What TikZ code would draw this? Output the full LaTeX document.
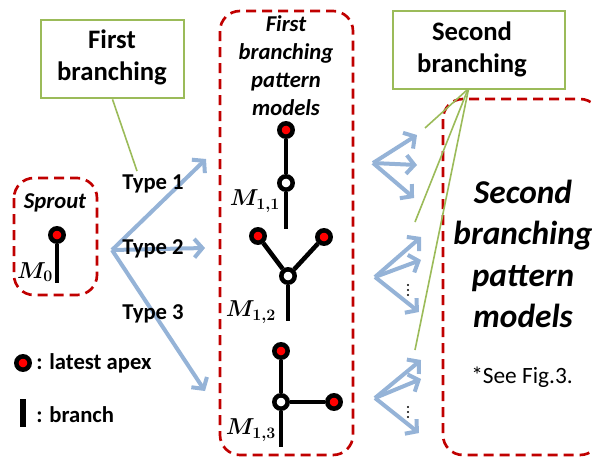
\documentclass[tikz,border=0pt]{standalone}
\usepackage{fontspec}
\setmainfont{Carlito}
\usetikzlibrary{arrows.meta}
\definecolor{dashred}{RGB}{192,0,0}
\definecolor{boxgreen}{RGB}{155,187,89}
\definecolor{arrowblue}{RGB}{149,179,215}
\begin{document}
\begin{tikzpicture}[x=0.75pt,y=-0.75pt,
  groupbox/.style={draw=dashred, line width=2pt, dash pattern=on 7.5pt off 4.5pt, rounded corners=15pt},
  notebox/.style={draw=boxgreen, line width=1.5pt, fill=white, inner sep=0pt},
  notetext/.style={align=center, font=\fontsize{20}{24}\selectfont\bfseries, inner sep=0pt},
  link/.style={draw=boxgreen, line width=1.2pt},
  flow/.style={draw=arrowblue, line width=3pt, -{Straight Barb[length=6pt,width=14pt,line width=3pt]}},
  apex/.style={circle, draw=black, fill=red, line width=3.4pt, minimum size=10pt, inner sep=0pt},
  joint/.style={circle, draw=black, fill=white, line width=3.4pt, minimum size=10pt, inner sep=0pt},
  stem/.style={draw=black, line width=3.4pt},
  dotmark/.style={circle, fill=black, inner sep=0pt, minimum size=1.8pt},
  lbl/.style={font=\fontsize{17}{20}\selectfont\bfseries, inner sep=0pt},
  mlbl/.style={font=\fontsize{18}{21}\selectfont\boldmath, inner sep=0pt},
  title/.style={align=center, inner sep=0pt}
]
\useasboundingbox (0,0) rectangle (592,457);
\clip (0,0) rectangle (592,457);

% dashed group frames
\draw[groupbox] (14,178) rectangle (97,295);
\draw[groupbox] (220,11) rectangle (353,455);
\draw[groupbox] (443,99) rectangle (600,455);

% frame titles
\node[title, font=\fontsize{17}{20}\selectfont\bfseries\itshape] (sprout) at (55,203) {Sprout};
\node[title, font=\fontsize{17}{21}\selectfont\bfseries\itshape] (fbm) at (286,66)
  {First\\branching\\pattern\\models};
\node[title, font=\fontsize{25}{31}\selectfont\bfseries\itshape] (sbm) at (523,254)
  {Second\\branching\\pattern\\models};
\node[title, font=\fontsize{17.5}{20}\selectfont] (see) at (522,377) {*See Fig.3.};

% sprout M0
\node[apex] (s0) at (57,235) {};
\coordinate (s0b) at (57,283);
\draw[stem] (s0) -- (s0b);
\node[mlbl] (m0) at (35,272) {$M_0$};

% first branching models
\node[apex] (a11) at (286,130) {};
\node[joint] (j11) at (286,183) {};
\coordinate (b11) at (286,229);
\draw[stem] (a11) -- (j11) -- (b11);
\node[mlbl] (m11) at (255,201) {$M_{1,1}$};

\node[apex] (a12l) at (258,236) {};
\node[apex] (a12r) at (324,237) {};
\node[joint] (j12) at (288,276) {};
\coordinate (b12) at (288,321);
\draw[stem] (a12l) -- (j12) -- (a12r);
\draw[stem] (j12) -- (b12);
\node[mlbl] (m12) at (251,312) {$M_{1,2}$};

\node[apex] (a13) at (281,351) {};
\node[joint] (j13) at (281,402) {};
\node[apex] (a13r) at (334,402) {};
\coordinate (b13) at (281,447);
\draw[stem] (a13) -- (j13) -- (a13r);
\draw[stem] (j13) -- (b13);
\node[mlbl] (m13) at (251,430) {$M_{1,3}$};

% first branching arrows
\coordinate (o1) at (112,250);
\coordinate (t1) at (206,159);
\coordinate (t2) at (205,248);
\coordinate (t3) at (205,391);
\draw[flow] (o1) -- (t1);
\draw[flow] (o1) -- (t2);
\draw[flow] (o1) -- (t3);
\node[lbl] (ty1) at (153,184) {Type 1};
\node[lbl] (ty2) at (153,249) {Type 2};
\node[lbl] (ty3) at (153,314) {Type 3};

% second branching arrows
\coordinate (p1) at (373,163);
\coordinate (p1a) at (417,135);
\coordinate (p1b) at (417,165);
\coordinate (p1c) at (414,198);
\draw[flow] (p1) -- (p1a);
\draw[flow] (p1) -- (p1b);
\draw[flow] (p1) -- (p1c);

\coordinate (p2) at (375,277);
\coordinate (p2a) at (421,237);
\coordinate (p2b) at (421,260);
\coordinate (p2c) at (419,312);
\draw[flow] (p2) -- (p2a);
\draw[flow] (p2) -- (p2b);
\draw[flow] (p2) -- (p2c);
\node[dotmark] (d2a) at (408,285) {};
\node[dotmark] (d2b) at (408,290) {};
\node[dotmark] (d2c) at (408,295) {};

\coordinate (p3) at (375,398);
\coordinate (p3a) at (421,360);
\coordinate (p3b) at (421,379);
\coordinate (p3c) at (419,433);
\draw[flow] (p3) -- (p3a);
\draw[flow] (p3) -- (p3b);
\draw[flow] (p3) -- (p3c);
\node[dotmark] (d3a) at (408,407) {};
\node[dotmark] (d3b) at (408,412) {};
\node[dotmark] (d3c) at (408,417) {};

% callout boxes and their leader lines
\node[notebox, minimum width=107pt, minimum height=59pt] (fb) at (112.5,59) {};
\node[notetext] (fbt) at (112,57) {First\\branching};
\coordinate (fbend) at (137,171);
\draw[link] (fb.south) -- (fbend);

\node[notebox, minimum width=129pt, minimum height=58.5pt] (sb) at (479,50) {};
\node[notetext] (sbt) at (472,49) {Second\\branching};
\coordinate (g1) at (425,128);
\coordinate (g2) at (415,222);
\coordinate (g3) at (415,350);
\draw[link] ([xshift=-9pt]sb.south) -- (g1);
\draw[link] ([xshift=-8.5pt]sb.south) -- (g2);
\draw[link] ([xshift=-8pt]sb.south) -- (g3);

% legend
\node[apex] (lgapex) at (23,363) {};
\node[lbl, anchor=west] (lgapext) at (36,363) {: latest apex};
\coordinate (lgbt) at (23,399);
\coordinate (lgbb) at (23,427);
\draw[stem, line width=4.4pt] (lgbt) -- (lgbb);
\node[lbl, anchor=west] (lgbrt) at (36,415) {: branch};
\end{tikzpicture}
\end{document}
